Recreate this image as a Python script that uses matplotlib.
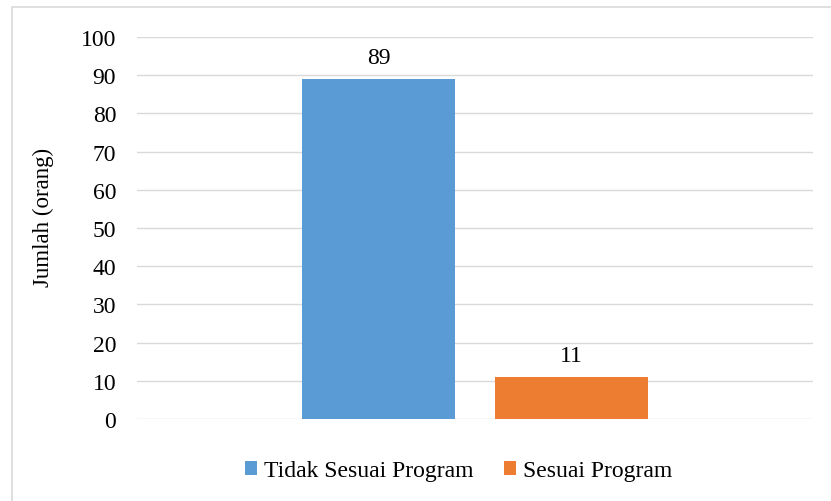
import matplotlib.pyplot as plt
from matplotlib.patches import Rectangle

series = ['Tidak Sesuai Program', 'Sesuai Program']
values = [89, 11]
colors = ['#5B9BD5', '#ED7D31']
yticks = [0, 10, 20, 30, 40, 50, 60, 70, 80, 90, 100]

plt.rcParams['font.family'] = ['Liberation Serif', 'DejaVu Serif']

fig = plt.figure(figsize=(8.31, 5.02), dpi=100)
W, H = 831, 502
ax = fig.add_axes([137 / W, 1 - 420 / H, (813 - 137) / W, (420 - 38) / H])

# chart border like excel
fig.patches.append(Rectangle((12 / W, -0.1), 1.2, 1 - 8 / H + 0.1, transform=fig.transFigure,
                             fill=False, edgecolor='#D9D9D9', linewidth=1.2))

width = 0.225
offsets = [-0.1428, 0.1428]
for name, v, c, off in zip(series, values, colors, offsets):
    ax.bar(off, v, width=width, color=c, label=name, zorder=3)
    ax.text(off, v + 2.8, str(v), ha='center', va='bottom', fontsize=17)

ax.set_xlim(-0.5, 0.5)
ax.set_ylim(0, 100)
ax.set_yticks(yticks)
ax.set_xticks([])
ax.tick_params(axis='y', length=0, labelsize=17, pad=15)
ax.grid(axis='y', color='#D9D9D9', linewidth=1, zorder=0)
for s in ax.spines.values():
    s.set_visible(False)
ax.set_ylabel('Jumlah (orang)', fontsize=16.5)
ax.yaxis.set_label_coords(-0.1235, 0.531)

fig.legend(loc='center', bbox_to_anchor=(459 / W, 1 - 472 / H), ncol=2, frameon=False,
           fontsize=17, handlelength=0.5, handleheight=0.5, handletextpad=0.3, columnspacing=1.3)

fig.savefig('out.png', dpi=100)
